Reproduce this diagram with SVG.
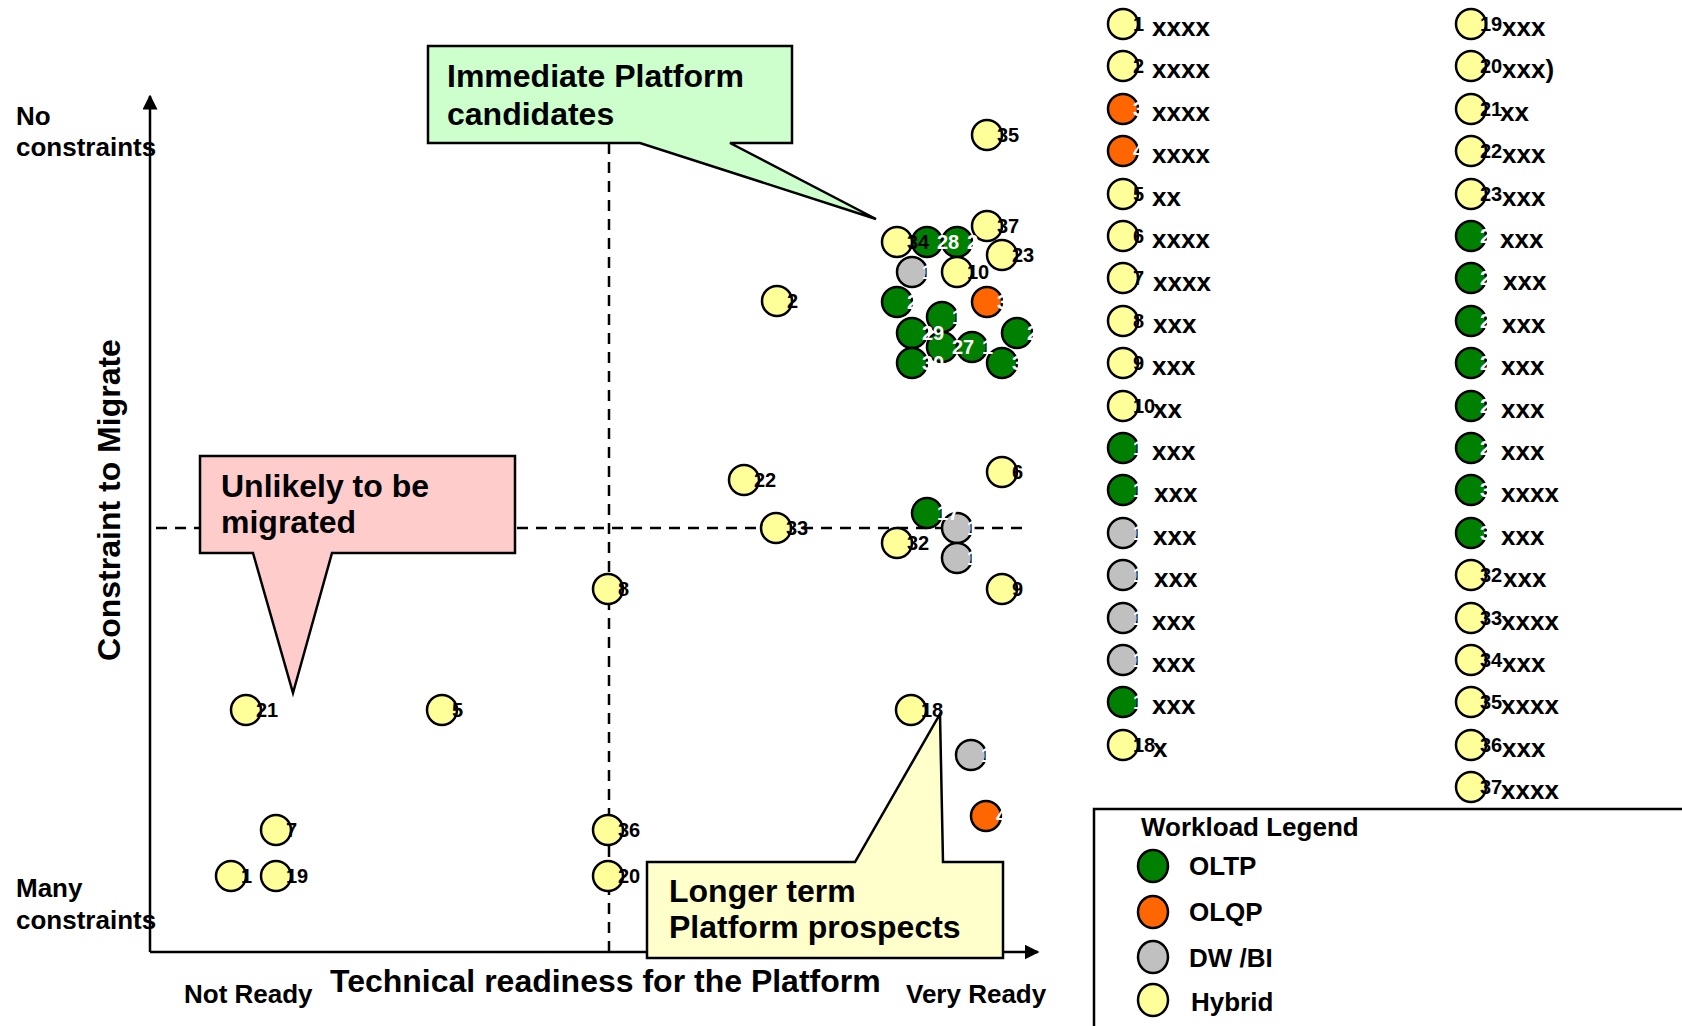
<svg xmlns="http://www.w3.org/2000/svg" width="1682" height="1026" viewBox="0 0 1682 1026">
<style>
text{font-family:"Liberation Sans",Arial,Helvetica,sans-serif;font-weight:bold;fill:#000}
.big{font-size:32px}
.mid{font-size:26px}
.num{font-size:20px}
.w{fill:#fff}
.ax{stroke:#000;stroke-width:2.5;fill:none}
.dash{stroke:#000;stroke-width:2.5;fill:none;stroke-dasharray:11 8}
circle,ellipse{stroke:#000;stroke-width:2.5}
.Y{fill:#FFFF99}.G{fill:#008000}.O{fill:#FF6600}.S{fill:#C0C0C0}
.co{stroke:#000;stroke-width:2.5}
</style>
<defs>
<marker id="ah" viewBox="0 0 10 10" refX="9" refY="5" markerWidth="6" markerHeight="6" orient="auto" markerUnits="strokeWidth"><path d="M0,0 L10,5 L0,10 Z" fill="#000"/></marker>
</defs>
<rect width="1682" height="1026" fill="#fff"/>

<g id="connectors">
<line class="dash" x1="609" y1="143" x2="609" y2="951"/>
<line class="dash" x1="156" y1="528" x2="1030" y2="528"/>
<line class="ax" x1="150" y1="952" x2="150" y2="96" marker-end="url(#ah)"/>
<line class="ax" x1="150" y1="952" x2="1038" y2="952" marker-end="url(#ah)"/>
</g>

<g id="axis-labels">
<text class="mid" x="16" y="125">No</text>
<text class="mid" x="16" y="156">constraints</text>
<text class="mid" x="16" y="897">Many</text>
<text class="mid" x="16" y="929">constraints</text>
<text class="mid" x="184" y="1003">Not Ready</text>
<text class="mid" x="906" y="1003">Very Ready</text>
<text class="big" x="330" y="992">Technical readiness for the Platform</text>
<text class="big" transform="translate(120,500) rotate(-90)" text-anchor="middle">Constraint to Migrate</text>
</g>

<g id="callout-immediate">
<path class="co" fill="#CCFFCC" d="M428,46 H792 V143 H730 L876,219 L640,143 H428 Z"/>
<text class="big" x="447" y="87">Immediate Platform</text>
<text class="big" x="447" y="125">candidates</text>
</g>
<g id="callout-unlikely">
<path class="co" fill="#FFCCCC" d="M200,456 H515 V553 H332 L293,693 L253,553 H200 Z"/>
<text class="big" x="221" y="497">Unlikely to be</text>
<text class="big" x="221" y="533">migrated</text>
</g>
<g id="callout-longer">
<path class="co" fill="#FFFFCC" d="M647,862 H855 L940,714 L943,862 H1003 V958 H647 Z"/>
<text class="big" x="669" y="902">Longer term</text>
<text class="big" x="669" y="938">Platform prospects</text>
</g>

<g id="bubbles">
<g id="b13"><circle class="G" cx="1017" cy="333" r="15"/><text class="num w" x="1027" y="340">2</text></g>
<g id="b6"><circle class="Y" cx="1002" cy="472" r="15"/><text class="num" x="1012" y="479">6</text></g>
<g id="b9"><circle class="Y" cx="1002" cy="589" r="15"/><text class="num" x="1012" y="596">9</text></g>
<g id="b23"><circle class="Y" cx="1002" cy="255" r="15"/><text class="num" x="1012" y="262">23</text></g>
<g id="b31"><circle class="G" cx="1002" cy="363" r="15"/><text class="num w" x="1012" y="370">3</text></g>
<g id="b35"><circle class="Y" cx="987" cy="135" r="15"/><text class="num" x="997" y="142">35</text></g>
<g id="b37"><circle class="Y" cx="987" cy="226" r="15"/><text class="num" x="997" y="233">37</text></g>
<g id="b3"><circle class="O" cx="987" cy="302" r="15"/><text class="num w" x="997" y="309">3</text></g>
<g id="b4"><circle class="O" cx="986" cy="816" r="15"/><text class="num w" x="996" y="823">4</text></g>
<g id="b27b"><circle class="G" cx="972" cy="347" r="15"/><text class="num w" x="982" y="354">1</text></g>
<g id="b16"><circle class="S" cx="971" cy="755" r="15"/><text class="num w" x="981" y="762">1</text></g>
<g id="b28b"><circle class="G" cx="957" cy="242" r="15"/><text class="num w" x="967" y="249">2</text></g>
<g id="b10"><circle class="Y" cx="957" cy="272" r="15"/><text class="num" x="967" y="279">10</text></g>
<g id="b14"><circle class="S" cx="957" cy="528" r="15"/><text class="num w" x="967" y="535">1</text></g>
<g id="b15"><circle class="S" cx="957" cy="558" r="15"/><text class="num w" x="967" y="565">1</text></g>
<g id="b11"><circle class="G" cx="942" cy="317" r="15"/><text class="num w" x="952" y="324">1</text></g>
<g id="b27"><circle class="G" cx="942" cy="347" r="15"/><text class="num w" x="952" y="354">27</text></g>
<g id="b28"><circle class="G" cx="927" cy="242" r="15"/><text class="num w" x="937" y="249">28</text></g>
<g id="b17"><circle class="G" cx="927" cy="513" r="15"/><text class="num w" x="937" y="520">17</text></g>
<g id="b13g"><circle class="S" cx="912" cy="272" r="15"/><text class="num w" x="922" y="279">1</text></g>
<g id="b29"><circle class="G" cx="912" cy="333" r="15"/><text class="num w" x="922" y="340">29</text></g>
<g id="b30"><circle class="G" cx="912" cy="363" r="15"/><text class="num w" x="922" y="370">30</text></g>
<g id="b18"><circle class="Y" cx="911" cy="710" r="15"/><text class="num" x="921" y="717">18</text></g>
<g id="b34"><circle class="Y" cx="897" cy="242" r="15"/><text class="num" x="907" y="249">34</text></g>
<g id="b24"><circle class="G" cx="897" cy="302" r="15"/><text class="num w" x="907" y="309">2</text></g>
<g id="b32"><circle class="Y" cx="897" cy="543" r="15"/><text class="num" x="907" y="550">32</text></g>
<g id="b2"><circle class="Y" cx="777" cy="301" r="15"/><text class="num" x="787" y="308">2</text></g>
<g id="b33"><circle class="Y" cx="776" cy="528" r="15"/><text class="num" x="786" y="535">33</text></g>
<g id="b22"><circle class="Y" cx="744" cy="480" r="15"/><text class="num" x="754" y="487">22</text></g>
<g id="b8"><circle class="Y" cx="608" cy="589" r="15"/><text class="num" x="618" y="596">8</text></g>
<g id="b36"><circle class="Y" cx="608" cy="830" r="15"/><text class="num" x="618" y="837">36</text></g>
<g id="b20"><circle class="Y" cx="608" cy="876" r="15"/><text class="num" x="618" y="883">20</text></g>
<g id="b5"><circle class="Y" cx="442" cy="710" r="15"/><text class="num" x="452" y="717">5</text></g>
<g id="b7"><circle class="Y" cx="276" cy="830" r="15"/><text class="num" x="286" y="837">7</text></g>
<g id="b19"><circle class="Y" cx="276" cy="876" r="15"/><text class="num" x="286" y="883">19</text></g>
<g id="b21"><circle class="Y" cx="246" cy="710" r="15"/><text class="num" x="256" y="717">21</text></g>
<g id="b1"><circle class="Y" cx="231" cy="876" r="15"/><text class="num" x="241" y="883">1</text></g>
</g>

<g id="list">
<g id="l1"><circle class="Y" cx="1123" cy="24" r="15"/><text class="num" x="1133" y="31">1</text><text class="mid" x="1152" y="36">xxxx</text></g>
<g id="l2"><circle class="Y" cx="1123" cy="66" r="15"/><text class="num" x="1133" y="73">2</text><text class="mid" x="1152" y="78">xxxx</text></g>
<g id="l3"><circle class="O" cx="1123" cy="109" r="15"/><text class="num w" x="1133" y="116">3</text><text class="mid" x="1152" y="121">xxxx</text></g>
<g id="l4"><circle class="O" cx="1123" cy="151" r="15"/><text class="num w" x="1133" y="158">4</text><text class="mid" x="1152" y="163">xxxx</text></g>
<g id="l5"><circle class="Y" cx="1123" cy="194" r="15"/><text class="num" x="1133" y="201">5</text><text class="mid" x="1152" y="206">xx</text></g>
<g id="l6"><circle class="Y" cx="1123" cy="236" r="15"/><text class="num" x="1133" y="243">6</text><text class="mid" x="1152" y="248">xxxx</text></g>
<g id="l7"><circle class="Y" cx="1123" cy="278" r="15"/><text class="num" x="1133" y="285">7</text><text class="mid" x="1153" y="291">xxxx</text></g>
<g id="l8"><circle class="Y" cx="1123" cy="321" r="15"/><text class="num" x="1133" y="328">8</text><text class="mid" x="1153" y="333">xxx</text></g>
<g id="l9"><circle class="Y" cx="1123" cy="363" r="15"/><text class="num" x="1133" y="370">9</text><text class="mid" x="1152" y="375">xxx</text></g>
<g id="l10"><circle class="Y" cx="1123" cy="406" r="15"/><text class="num" x="1133" y="413">10</text><text class="mid" x="1153" y="418">xx</text></g>
<g id="l11"><circle class="G" cx="1123" cy="448" r="15"/><text class="num w" x="1133" y="455">1</text><text class="mid" x="1152" y="460">xxx</text></g>
<g id="l12"><circle class="G" cx="1123" cy="490" r="15"/><text class="num w" x="1133" y="497">1</text><text class="mid" x="1154" y="502">xxx</text></g>
<g id="l13"><circle class="S" cx="1123" cy="533" r="15"/><text class="num w" x="1133" y="540">1</text><text class="mid" x="1153" y="545">xxx</text></g>
<g id="l14"><circle class="S" cx="1123" cy="575" r="15"/><text class="num w" x="1133" y="582">1</text><text class="mid" x="1154" y="587">xxx</text></g>
<g id="l15"><circle class="S" cx="1123" cy="618" r="15"/><text class="num w" x="1133" y="625">1</text><text class="mid" x="1152" y="630">xxx</text></g>
<g id="l16"><circle class="S" cx="1123" cy="660" r="15"/><text class="num w" x="1133" y="667">1</text><text class="mid" x="1152" y="672">xxx</text></g>
<g id="l17"><circle class="G" cx="1123" cy="702" r="15"/><text class="num w" x="1133" y="709">1</text><text class="mid" x="1152" y="714">xxx</text></g>
<g id="l18"><circle class="Y" cx="1123" cy="745" r="15"/><text class="num" x="1133" y="752">18</text><text class="mid" x="1153" y="757">x</text></g>

<g id="l19"><circle class="Y" cx="1471" cy="24" r="15"/><text class="num" x="1480" y="31">19</text><text class="mid" x="1502" y="36">xxx</text></g>
<g id="l20"><circle class="Y" cx="1471" cy="66" r="15"/><text class="num" x="1480" y="73">20</text><text class="mid" x="1502" y="78">xxx)</text></g>
<g id="l21"><circle class="Y" cx="1471" cy="109" r="15"/><text class="num" x="1480" y="116">21</text><text class="mid" x="1500" y="121">xx</text></g>
<g id="l22"><circle class="Y" cx="1471" cy="151" r="15"/><text class="num" x="1480" y="158">22</text><text class="mid" x="1502" y="163">xxx</text></g>
<g id="l23"><circle class="Y" cx="1471" cy="194" r="15"/><text class="num" x="1480" y="201">23</text><text class="mid" x="1502" y="206">xxx</text></g>
<g id="l24"><circle class="G" cx="1471" cy="236" r="15"/><text class="num w" x="1480" y="243">2</text><text class="mid" x="1500" y="248">xxx</text></g>
<g id="l25"><circle class="G" cx="1471" cy="278" r="15"/><text class="num w" x="1480" y="285">2</text><text class="mid" x="1503" y="290">xxx</text></g>
<g id="l26"><circle class="G" cx="1471" cy="321" r="15"/><text class="num w" x="1480" y="328">2</text><text class="mid" x="1502" y="333">xxx</text></g>
<g id="l27"><circle class="G" cx="1471" cy="363" r="15"/><text class="num w" x="1480" y="370">2</text><text class="mid" x="1501" y="375">xxx</text></g>
<g id="l28"><circle class="G" cx="1471" cy="406" r="15"/><text class="num w" x="1480" y="413">2</text><text class="mid" x="1501" y="418">xxx</text></g>
<g id="l29"><circle class="G" cx="1471" cy="448" r="15"/><text class="num w" x="1480" y="455">2</text><text class="mid" x="1501" y="460">xxx</text></g>
<g id="l30"><circle class="G" cx="1471" cy="490" r="15"/><text class="num w" x="1480" y="497">3</text><text class="mid" x="1501" y="502">xxxx</text></g>
<g id="l31"><circle class="G" cx="1471" cy="533" r="15"/><text class="num w" x="1480" y="540">3</text><text class="mid" x="1501" y="545">xxx</text></g>
<g id="l32"><circle class="Y" cx="1471" cy="575" r="15"/><text class="num" x="1480" y="582">32</text><text class="mid" x="1503" y="587">xxx</text></g>
<g id="l33"><circle class="Y" cx="1471" cy="618" r="15"/><text class="num" x="1480" y="625">33</text><text class="mid" x="1501" y="630">xxxx</text></g>
<g id="l34"><circle class="Y" cx="1471" cy="660" r="15"/><text class="num" x="1480" y="667">34</text><text class="mid" x="1502" y="672">xxx</text></g>
<g id="l35"><circle class="Y" cx="1471" cy="702" r="15"/><text class="num" x="1480" y="709">35</text><text class="mid" x="1501" y="714">xxxx</text></g>
<g id="l36"><circle class="Y" cx="1471" cy="745" r="15"/><text class="num" x="1480" y="752">36</text><text class="mid" x="1502" y="757">xxx</text></g>
<g id="l37"><circle class="Y" cx="1471" cy="787" r="15"/><text class="num" x="1480" y="794">37</text><text class="mid" x="1501" y="799">xxxx</text></g>
</g>

<g id="workload-legend">
<rect x="1094" y="809" width="620" height="260" fill="#fff" stroke="#000" stroke-width="2.5"/>
<text class="mid" x="1141" y="836">Workload Legend</text>
<ellipse class="G" cx="1153" cy="866" rx="15" ry="16"/><text class="mid" x="1189" y="875">OLTP</text>
<ellipse class="O" cx="1153" cy="912" rx="15" ry="16"/><text class="mid" x="1189" y="921">OLQP</text>
<ellipse class="S" cx="1153" cy="957" rx="15" ry="16"/><text class="mid" x="1189" y="967">DW /BI</text>
<ellipse class="Y" cx="1153" cy="1000" rx="15" ry="16"/><text class="mid" x="1191" y="1011">Hybrid</text>
</g>
</svg>
